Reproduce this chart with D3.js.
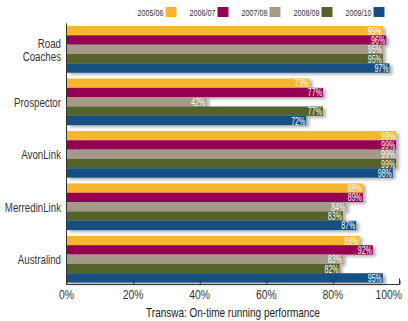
<!DOCTYPE html>
<html>
<head>
<meta charset="utf-8">
<script src="https://cdn.jsdelivr.net/npm/d3@7"></script>
<style>
  body { margin: 0; background: #fff; }
  svg { display: block; font-family: "Liberation Sans", Arial, sans-serif; }
</style>
</head>
<body>
<div id="chart"></div>
<script>
const categories = ["Road Coaches", "Prospector", "AvonLink", "MerredinLink", "Australind"];
const years = ["2005/06", "2006/07", "2007/08", "2008/09", "2009/10"];
const colors = ["#f6b72d", "#950052", "#a59a89", "#55622a", "#124f82"];
// one array per year, in category order
const v0506 = [95, 73, 99, 89, 88];
const v0607 = [96, 77, 99, 89, 92];
const v0708 = [95, 42, 99, 84, 83];
const v0809 = [95, 77, 99, 83, 82];
const v0910 = [97, 72, 98, 87, 95];
const series = [v0506, v0607, v0708, v0809, v0910];
const xTicks = [0, 20, 40, 60, 80, 100];

const width = 408, height = 321;

const svg = d3.select("#chart").append("svg")
  .attr("width", width)
  .attr("height", height);

// soft drop shadow behind bars
const f = svg.append("defs").append("filter")
  .attr("id", "shadow")
  .attr("x", "-5%").attr("y", "-30%")
  .attr("width", "115%").attr("height", "180%");
f.append("feDropShadow")
  .attr("dx", 3).attr("dy", 2)
  .attr("stdDeviation", 1.4)
  .attr("flood-color", "#000")
  .attr("flood-opacity", 0.3);

// squeezed text, to look like the condensed face of the original
function label(parent, tx, ty, str, size, fill, anchor, sx) {
  return parent.append("text")
    .attr("transform", `translate(${tx},${ty}) scale(${sx || 0.8},1)`)
    .attr("text-anchor", anchor || "end")
    .attr("font-size", size + "px")
    .attr("fill", fill)
    .text(str);
}

const x = d3.scaleLinear().domain([0, 100]).range([66.5, 399.5]);

const y = d3.scaleBand()
  .domain(categories)
  .range([23.4, 285.2])
  .paddingInner(0.11)
  .paddingOuter(0.05);

const ySub = d3.scaleBand()
  .domain(years)
  .range([0, y.bandwidth()]);

// legend
const legend = svg.append("g");
years.forEach((yr, i) => {
  const lx = 165.5 + i * 52;
  legend.append("rect")
    .attr("x", lx).attr("y", 7)
    .attr("width", 11).attr("height", 10)
    .attr("fill", colors[i]);
  label(legend, lx - 2, 15.5, yr, 9, "#333");
});

// bars
categories.forEach((cat, ci) => {
  const g = svg.append("g").attr("transform", `translate(0,${y(cat)})`);
  years.forEach((yr, si) => {
    const val = series[si][ci];
    g.append("rect")
      .attr("x", x(0))
      .attr("y", ySub(yr))
      .attr("width", x(val) - x(0))
      .attr("height", ySub.bandwidth())
      .attr("fill", colors[si])
      .attr("filter", "url(#shadow)");
  });
  years.forEach((yr, si) => {
    const val = series[si][ci];
    label(g, x(val) - 1, ySub(yr) + ySub.bandwidth() / 2 + 4, val + "%", 11, "#fff", "end", 0.64);
  });

  // category label
  const words = cat === "Road Coaches" ? ["Road", "Coaches"] : [cat];
  const cy = y(cat) + y.bandwidth() / 2;
  words.forEach((w, wi) => {
    label(svg, 61, cy + 5 + (wi - (words.length - 1) / 2) * 13.5, w, 13.5, "#333", "end", 0.72);
  });
});

// axes
svg.append("line")
  .attr("x1", x(0)).attr("x2", x(0))
  .attr("y1", 23.5).attr("y2", 284.5)
  .attr("stroke", "#333").attr("stroke-width", 1);

const xAxis = svg.append("g")
  .attr("transform", "translate(0,284.5)")
  .call(d3.axisBottom(x).tickValues(xTicks).tickSize(-4).tickFormat(""));
xAxis.select(".domain").attr("stroke", "#333").attr("d", `M${x(0)},0H${x(100)}V-6`);
xAxis.selectAll(".tick line").attr("stroke", "#333");
xTicks.forEach(t => {
  if (t === 100) label(xAxis, 402, 14.5, t + "%", 13, "#333", "end");
  else label(xAxis, x(t), 14.5, t + "%", 13, "#333", "middle");
});

label(svg, 233, 317, "Transwa: On-time running performance", 12.5, "#222", "middle");
</script>
</body>
</html>
